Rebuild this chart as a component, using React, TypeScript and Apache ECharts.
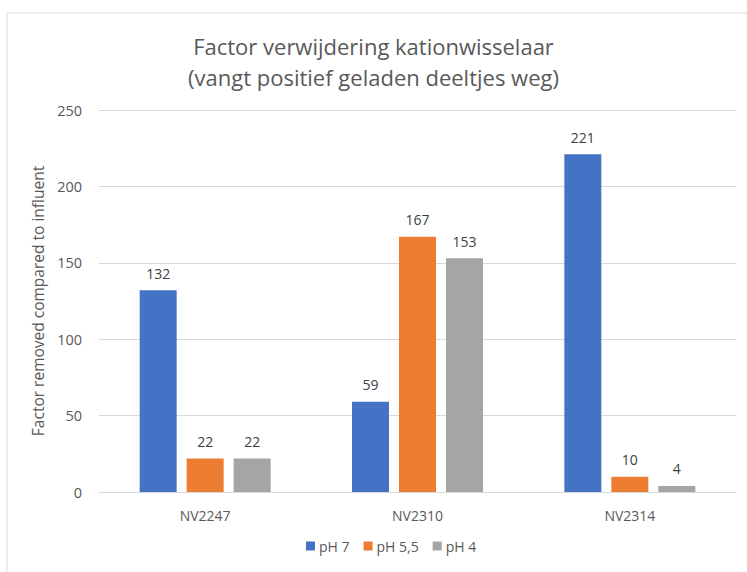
import React, { useEffect, useRef } from "react";
import * as echarts from "echarts";

const categories = ["NV2247", "NV2310", "NV2314"];
const seriesNames = ["pH 7", "pH 5,5", "pH 4"];
const ph7 = [132, 59, 221];
const ph55 = [22, 167, 10];
const ph4 = [22, 153, 4];
const colors = ["#4472C4", "#ED7D31", "#A5A5A5"];
const titleText = "Factor verwijdering kationwisselaar\n(vangt positief geladen deeltjes weg)";
const yAxisTitle = "Factor removed compared to influent";

const FONT = "'Open Sans', 'Noto Sans', sans-serif";

export default function App() {
  const ref = useRef<HTMLDivElement>(null);
  useEffect(() => {
    document.body.style.margin = "0";
    const chart = echarts.init(ref.current!, null, { renderer: "svg" });
    const data = [ph7, ph55, ph4];
    chart.setOption({
      animation: false,
      backgroundColor: "#ffffff",
      textStyle: { fontFamily: FONT },
      title: {
        text: titleText,
        left: "center",
        top: 25,
        textStyle: {
          fontFamily: FONT,
          fontSize: 22,
          fontWeight: "normal",
          color: "#595959",
          lineHeight: 31,
        },
      },
      graphic: [
        {
          type: "rect",
          shape: { x: 7, y: 13, width: 760, height: 600 },
          style: { fill: "none", stroke: "#D9D9D9", lineWidth: 1 },
          silent: true,
          z: -1,
        },
      ],
      legend: {
        bottom: 14,
        left: 301,
        itemWidth: 9,
        itemHeight: 9,
        itemGap: 14,
        icon: "rect",
        textStyle: { fontFamily: FONT, fontSize: 14, color: "#595959", padding: [0, 0, 0, -1] },
        data: seriesNames,
      },
      grid: { left: 99, right: 11, top: 110, bottom: 80, containLabel: false },
      xAxis: {
        type: "category",
        data: categories,
        axisLine: { lineStyle: { color: "#D9D9D9" } },
        axisTick: { show: false },
        axisLabel: { fontFamily: FONT, fontSize: 14, color: "#595959", margin: 16 },
      },
      yAxis: {
        type: "value",
        min: 0,
        max: 250,
        interval: 50,
        name: yAxisTitle,
        nameLocation: "middle",
        nameGap: 48,
        nameTextStyle: { fontFamily: FONT, fontSize: 15.5, color: "#595959" },
        axisLine: { show: false },
        axisTick: { show: false },
        axisLabel: { fontFamily: FONT, fontSize: 14.5, color: "#595959", margin: 17 },
        splitLine: { lineStyle: { color: "#D9D9D9" } },
      },
      series: seriesNames.map((name, i) => ({
        name,
        type: "bar",
        data: data[i],
        barWidth: 37,
        barGap: "27%",
        itemStyle: { color: colors[i] },
        label: {
          show: true,
          position: "top",
          distance: 10,
          fontFamily: FONT,
          fontSize: 14,
          color: "#404040",
        },
      })),
    });
    return () => chart.dispose();
  }, []);
  return <div ref={ref} style={{ width: 747, height: 572 }} />;
}
